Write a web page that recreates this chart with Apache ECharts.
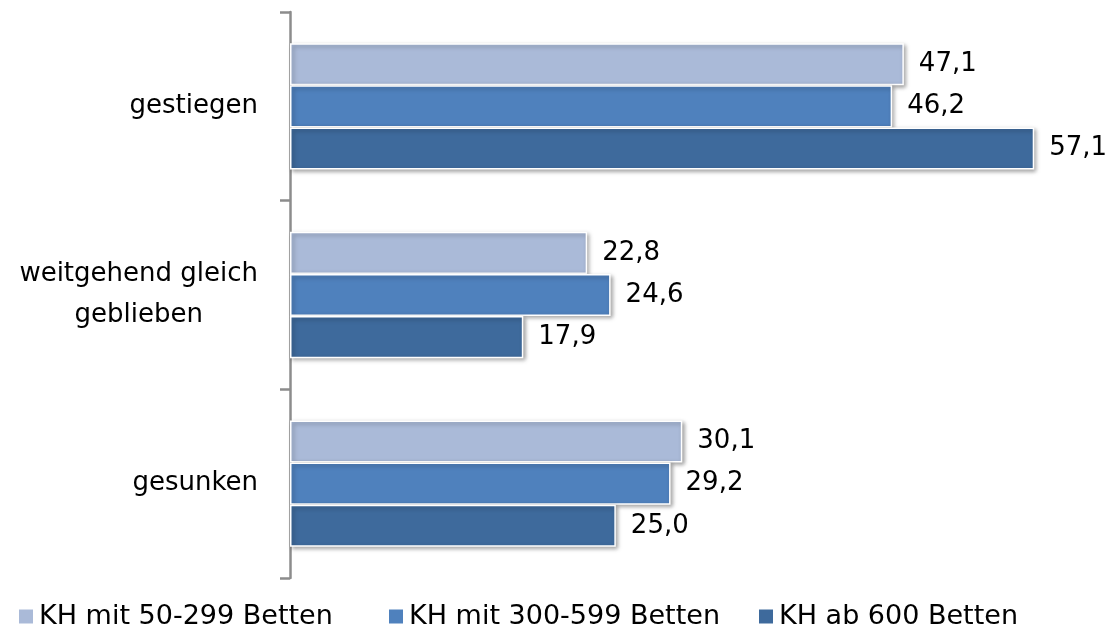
<!DOCTYPE html>
<html>
<head>
<meta charset="utf-8">
<script src="https://cdn.jsdelivr.net/npm/echarts@6/dist/echarts.min.js"></script>
<style>
  html, body { margin: 0; padding: 0; background: #fff; }
  #container1 { width: 1108px; height: 628px; }
</style>
</head>
<body>
<div id="container1"></div>
<script>
var categories = ['gestiegen', 'weitgehend gleich\ngeblieben', 'gesunken'];
var seriesNames = ['KH mit 50-299 Betten', 'KH mit 300-599 Betten', 'KH ab 600 Betten'];
var small = [47.1, 22.8, 30.1];
var medium = [46.2, 24.6, 29.2];
var large = [57.1, 17.9, 25.0];

var dom = document.getElementById("container1");
var myChart = echarts.init(dom);
var font = 'DejaVu Sans';
var colors = ['#aabad8', '#4f81bd', '#3e6a9c'];

function bar(name, data, color) {
    return {
        name: name,
        type: 'bar',
        data: data,
        barGap: '0%',
        barCategoryGap: '33%',
        itemStyle: {
            color: color,
            borderColor: '#fff',
            borderWidth: 1.5,
            shadowBlur: 4,
            shadowColor: 'rgba(0,0,0,0.35)',
            shadowOffsetX: 2,
            shadowOffsetY: 2
        },
        label: {
            show: true,
            position: 'right',
            distance: 15,
            color: '#000',
            fontFamily: font,
            fontSize: 26,
            formatter: function (p) {
                return p.value.toFixed(1).replace('.', ',');
            }
        }
    };
}

function legend(i, left) {
    return {
        data: [seriesNames[i]],
        left: left,
        top: 598,
        icon: 'rect',
        itemWidth: 16,
        itemHeight: 16,
        itemGap: 8,
        textStyle: { color: '#000', fontFamily: font, fontSize: 27 }
    };
}

var option = {
    animation: false,
    color: colors,
    legend: [legend(0, 12), legend(1, 382), legend(2, 752)],
    grid: { left: 290, right: 36, top: 12, bottom: 50 },
    xAxis: {
        type: 'value',
        min: 0,
        max: 60,
        show: false
    },
    yAxis: {
        type: 'category',
        data: categories,
        inverse: true,
        axisLine: { show: true, lineStyle: { color: '#8c8c8c', width: 2.5 } },
        axisTick: { show: true, length: 10, lineStyle: { color: '#8c8c8c', width: 2.5 } },
        axisLabel: {
            margin: 32,
            color: '#000',
            fontFamily: font,
            fontSize: 26,
            lineHeight: 41,
            formatter: function (v) {
                return v.split('\n').map(function (s) { return '{c|' + s + '}'; }).join('\n');
            },
            rich: {
                c: { align: 'center', fontFamily: font, fontSize: 26, lineHeight: 41, color: '#000' }
            }
        }
    },
    series: [
        bar(seriesNames[0], small, colors[0]),
        bar(seriesNames[1], medium, colors[1]),
        bar(seriesNames[2], large, colors[2])
    ]
};
if (option && typeof option === "object") {
    myChart.setOption(option, true);
}
</script>
</body>
</html>
